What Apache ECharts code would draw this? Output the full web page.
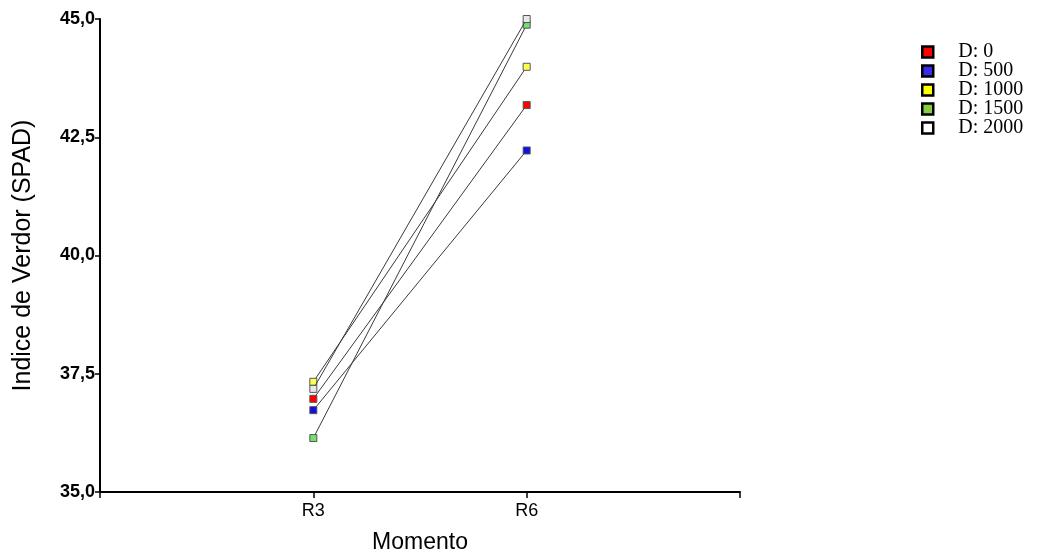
<!DOCTYPE html>
<html><head><meta charset="utf-8">
<script src="https://cdn.jsdelivr.net/npm/echarts@6/dist/echarts.min.js"></script>
<style>html,body{margin:0;padding:0;background:#fff}#c{width:1039px;height:555px}</style>
</head><body><div id="c"></div>
<script>
const categories = ['', 'R3', 'R6', ''];
const seriesNames = ['D: 0', 'D: 500', 'D: 1000', 'D: 1500', 'D: 2000'];
const d0 = [null, 36.97, 43.18, null];
const d500 = [null, 36.73, 42.22, null];
const d1000 = [null, 37.33, 43.99, null];
const d1500 = [null, 36.14, 44.88, null];
const d2000 = [null, 37.18, 45.0, null];
const yTicks = [35, 37.5, 40, 42.5, 45];
const markerColors = ['#ff0000', '#1010e0', '#ffff50', '#70e070', '#e8e8e8'];
const legendColors = ['#ff0000', '#3a2ae8', '#ffff00', '#88cc44', '#ffffff'];
const values = [d0, d500, d1000, d1500, d2000];

const chart = echarts.init(document.getElementById('c'), null, {renderer: 'canvas'});
chart.setOption({
  animation: false,
  backgroundColor: '#fff',
  grid: {left: 100, right: 299, top: 19, bottom: 63, containLabel: false, outerBoundsMode: 'none'},
  legend: {
    orient: 'vertical', left: 916, top: 37, itemGap: -1, padding: 5,
    itemWidth: 11, itemHeight: 11, icon: 'rect',
    textStyle: {fontFamily: 'Liberation Serif', fontSize: 20, lineHeight: 17, color: '#000', padding: [0, 0, 0, 20]},
    data: seriesNames.map((n, i) => ({name: n, itemStyle: {color: legendColors[i], borderColor: '#000', borderWidth: 2.5}}))
  },
  xAxis: {
    type: 'category', data: categories, boundaryGap: false,
    name: 'Momento', nameLocation: 'middle', nameGap: 39,
    nameTextStyle: {fontFamily: 'Liberation Sans', fontSize: 23, color: '#000'},
    axisLine: {lineStyle: {color: '#000', width: 2}},
    axisTick: {show: true, alignWithLabel: true, interval: 0, length: 6, lineStyle: {color: '#000', width: 1.5}},
    axisLabel: {interval: 0, fontFamily: 'Liberation Sans', fontSize: 18, color: '#000', margin: 10}
  },
  yAxis: {
    type: 'value', min: 35, max: 45, interval: 2.5,
    name: 'Indice de Verdor (SPAD)', nameLocation: 'middle', nameGap: 64,
    nameTextStyle: {fontFamily: 'Liberation Sans', fontSize: 25, color: '#000'},
    splitLine: {show: false},
    axisLine: {show: true, lineStyle: {color: '#000', width: 2}},
    axisTick: {show: true, length: 5, lineStyle: {color: '#000', width: 1.5}},
    axisLabel: {fontFamily: 'Liberation Sans', fontSize: 18, fontWeight: 'bold', color: '#000', margin: 5,
      formatter: v => v.toFixed(1).replace('.', ',')}
  },
  series: values.map((arr, i) => ({
    name: seriesNames[i], type: 'line', data: arr, connectNulls: false,
    symbol: 'rect', symbolSize: 7, showSymbol: true,
    lineStyle: {color: '#3a3a3a', width: 1},
    itemStyle: {color: markerColors[i], borderColor: '#555', borderWidth: 1},
    z: 2 + i
  }))
});
</script></body></html>
